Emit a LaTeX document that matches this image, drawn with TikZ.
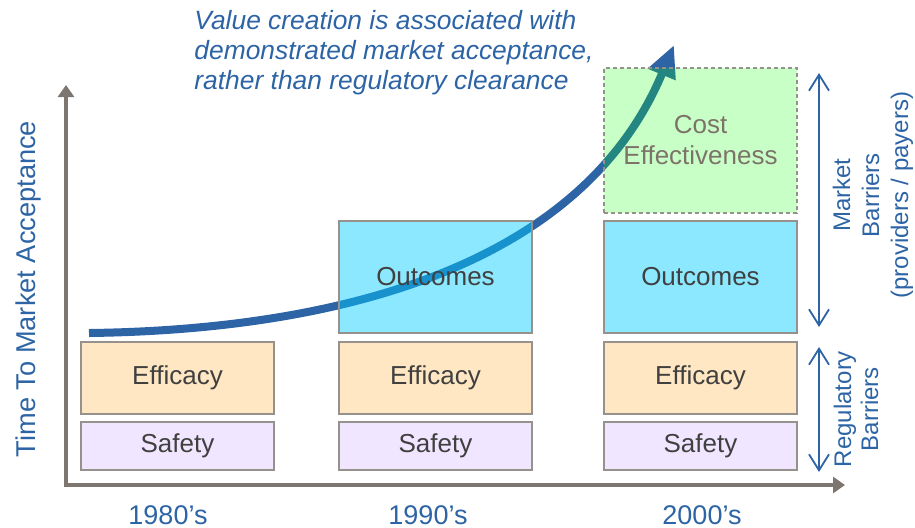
\documentclass[tikz,border=0pt]{standalone}
\usepackage{fontspec}
\setmainfont{Liberation Sans}
\usetikzlibrary{arrows.meta}

\definecolor{axisgray}{RGB}{125,117,112}
\definecolor{boxgray}{RGB}{150,145,140}
\definecolor{txtgray}{RGB}{64,64,64}
\definecolor{costtxt}{RGB}{125,115,105}
\definecolor{labelblue}{RGB}{45,100,165}
\definecolor{effillfill}{RGB}{254,231,194}
\definecolor{safefill}{RGB}{241,230,255}
\definecolor{outfill}{RGB}{0,204,255}
\definecolor{costfill}{RGB}{0,255,0}

\begin{document}
\begin{tikzpicture}[x=0.5pt,y=-0.5pt,
    bar/.style={draw=boxgray,line width=0.7pt,minimum width=96.5pt,inner sep=0pt,
      text=txtgray,font=\fontsize{13}{15.5}\selectfont,align=center},
    bluetext/.style={text=labelblue,inner sep=0pt},
    axisline/.style={draw=axisgray,line width=1.7pt,{Triangle[length=6pt,width=8pt]}-{Triangle[length=6pt,width=8pt]}},
    span/.style={draw=labelblue,line width=0.9pt,{Straight Barb[length=8pt,width=10pt]}-{Straight Barb[length=8pt,width=10pt]}}]
    \useasboundingbox (0,0) rectangle (915,527);

    % Axes
    \coordinate (origin) at (66,485);
    \coordinate (ytop) at (66,85);
    \coordinate (xend) at (845,485);
    \draw[axisline] (ytop) -- (origin) -- (xend);

    % Growth curve (drawn first, boxes lie over it)
    \coordinate (cstart) at (89,333);
    \coordinate (ctip) at (674,45);
    \draw[draw=labelblue,line width=4pt,-{Triangle[length=16pt,width=14pt]}]
      (cstart) .. controls (330,330) and (580,270) .. (ctip);

    % Boxes for the 1980's
    \node[bar,fill=effillfill,minimum height=36pt] (eff80) at (177.5,378) {Efficacy};
    \node[bar,fill=safefill,minimum height=24pt] (saf80) at (177.5,446) {Safety};

    % Boxes for the 1990's
    \node[bar,fill=effillfill,minimum height=36pt] (eff90) at (435.5,378) {Efficacy};
    \node[bar,fill=safefill,minimum height=24pt] (saf90) at (435.5,446) {Safety};
    \node[bar,fill=outfill,fill opacity=0.45,text opacity=1,minimum height=56pt] (out90) at (435.5,277) {Outcomes};

    % Boxes for the 2000's
    \node[bar,fill=effillfill,minimum height=36pt] (eff00) at (700.5,378) {Efficacy};
    \node[bar,fill=safefill,minimum height=24pt] (saf00) at (700.5,446) {Safety};
    \node[bar,fill=outfill,fill opacity=0.45,text opacity=1,minimum height=56pt] (out00) at (700.5,277) {Outcomes};
    \node[bar,fill=costfill,fill opacity=0.22,text opacity=1,text=costtxt,dash pattern=on 2pt off 1.5pt,minimum height=72.5pt] (cost00) at (700.5,140.5) {Cost\\Effectiveness};

    % Barrier spans
    \coordinate (mtop) at (819,73);
    \coordinate (mbot) at (819,327);
    \coordinate (rtop) at (819,347);
    \coordinate (rbot) at (819,472);
    \draw[span] (mtop) -- (mbot);
    \draw[span] (rtop) -- (rbot);
    \node[bluetext,rotate=90,align=center,font=\fontsize{12}{14.5}\selectfont] (mkt) at (873,195) {Market\\Barriers\\(providers / payers)};
    \node[bluetext,rotate=90,align=center,font=\fontsize{12}{13.5}\selectfont] (reg) at (856,409) {Regulatory\\Barriers};

    % Axis labels
    \node[bluetext,rotate=90,font=\fontsize{13.6}{16}\selectfont] (ylab) at (28,289) {Time To Market Acceptance};
    \node[bluetext,font=\fontsize{13.5}{16}\selectfont] (y80) at (168,515) {1980’s};
    \node[bluetext,font=\fontsize{13.5}{16}\selectfont] (y90) at (428,515) {1990’s};
    \node[bluetext,font=\fontsize{13.5}{16}\selectfont] (y00) at (702,515) {2000’s};

    % Note above the curve
    \node[bluetext,anchor=north west,align=left,font=\fontsize{13.2}{15}\itshape] (note) at (194,10)
      {Value creation is associated with\\demonstrated market acceptance,\\rather than regulatory clearance};
\end{tikzpicture}
\end{document}
